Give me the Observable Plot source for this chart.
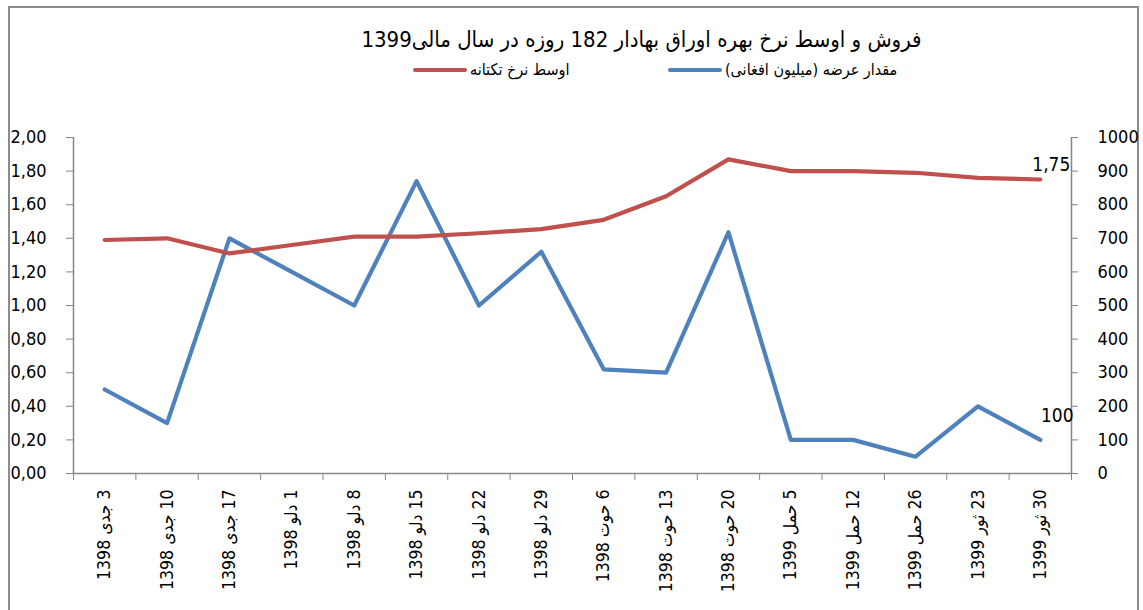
<!DOCTYPE html>
<html>
<head>
<meta charset="utf-8">
<script src="https://cdn.jsdelivr.net/npm/d3@7"></script>
<script src="https://cdn.jsdelivr.net/npm/@observablehq/plot@0.6"></script>
<style>
  html, body { margin: 0; padding: 0; background: #fff; }
  body { width: 1143px; height: 610px; position: relative; overflow: hidden;
         font-family: "Liberation Sans Narrow", "DejaVu Sans Condensed", "DejaVu Sans", sans-serif; }
  #border { position: absolute; left: 8px; top: 6px; width: 1131px; height: 620px;
            border: 2px solid #8c8c8c; box-sizing: border-box; }
  #title { position: absolute; left: 0; width: 1143px; top: 27px; text-align: center;
           font-size: 22px; color: #000; direction: rtl; padding-left: 140px; box-sizing: border-box; white-space: nowrap; }
  #legend { position: absolute; top: 60px; left: 0; width: 1143px; font-size: 16px; color: #000; }
  .item { position: absolute; display: flex; align-items: center; direction: rtl; white-space: nowrap; }
  .sw { display: inline-block; width: 54px; height: 4px; border-radius: 2px; margin-right: 3px; }
  #chart { position: absolute; left: 0; top: 0; }
  #chart svg text { font-family: "Liberation Sans Narrow", "DejaVu Sans Condensed", "DejaVu Sans", sans-serif; }
</style>
</head>
<body>
<div id="border"></div>
<div id="chart"></div>
<div id="title"></div>
<div id="legend"></div>
<script>
// ---- data ----
const days   = ["3", "10", "17", "1", "8", "15", "22", "29", "6", "13", "20", "5", "12", "26", "23", "30"];
const months = ["جدی", "جدی", "جدی", "دلو", "دلو", "دلو", "دلو", "دلو", "حوت", "حوت", "حوت", "حمل", "حمل", "حمل", "ثور", "ثور"];
const years  = ["1398", "1398", "1398", "1398", "1398", "1398", "1398", "1398", "1398", "1398", "1398", "1399", "1399", "1399", "1399", "1399"];
const supply = [250, 150, 700, 600, 500, 870, 500, 660, 310, 300, 718, 100, 100, 50, 200, 100];   // مقدار عرضه (میلیون افغانی) - right axis
const rate   = [1.39, 1.40, 1.31, 1.36, 1.41, 1.41, 1.43, 1.455, 1.51, 1.65, 1.87, 1.80, 1.80, 1.79, 1.76, 1.75]; // اوسط نرخ تکتانه - left axis
const leftTicks  = [0, 0.2, 0.4, 0.6, 0.8, 1.0, 1.2, 1.4, 1.6, 1.8, 2.0];
const rightTicks = [0, 100, 200, 300, 400, 500, 600, 700, 800, 900, 1000];
const titleText = "فروش و اوسط نرخ بهره اوراق بهادار 182 روزه در سال مالی1399";
const seriesNames = ["اوسط نرخ تکتانه", "مقدار عرضه (میلیون افغانی)"];
const seriesColors = ["#C0504D", "#4F81BD"];

// ---- build ----
const leftMax = 2, rightMax = 1000;
const toLeft = v => v * leftMax / rightMax;
const labels = days.map((d, i) => "\u202B" + d + " " + months[i] + " " + years[i] + "\u202C");
const idx = d3.range(days.length);
const rows = idx.map(i => ({i, rate: rate[i], supply: supply[i]}));
const bounds = d3.range(-0.5, days.length, 1);
const last = rows[rows.length - 1];
const fmtComma = d => d.toFixed(2).replace(".", ",");

const plot = Plot.plot({
  width: 1143,
  height: 610,
  marginLeft: 73,
  marginRight: 72,
  marginTop: 137,
  marginBottom: 137,
  x: {type: "linear", domain: [-0.5, days.length - 0.5]},
  y: {domain: [0, leftMax]},
  style: {fontSize: "17px", color: "#000", background: "transparent", overflow: "visible"},
  marks: [
    // axis lines
    Plot.ruleY([0], {stroke: "#868686", strokeWidth: 1.5}),
    Plot.ruleX([-0.5, days.length - 0.5], {stroke: "#868686", strokeWidth: 1.5}),
    // left axis
    Plot.axisY({anchor: "left", ticks: leftTicks, tickFormat: fmtComma, tickSize: 7, tickPadding: 20,
                stroke: "#868686", label: null, fontSize: 18}),
    // right axis
    Plot.axisY({anchor: "right", ticks: rightTicks.map(toLeft), tickFormat: d => String(Math.round(d * rightMax / leftMax)),
                tickSize: 6, tickPadding: 20, stroke: "#868686", label: null, fontSize: 18}),
    // x boundary ticks
    Plot.axisX({ticks: bounds, tickFormat: () => "", tickSize: 7, stroke: "#868686", label: null}),
    // x category labels
    Plot.axisX({ticks: idx, tickFormat: i => labels[i], tickSize: 0, tickPadding: 16, tickRotate: -90,
                label: null, fontSize: 17.5}),
    // series
    Plot.line(rows, {x: "i", y: d => toLeft(d.supply), stroke: seriesColors[1], strokeWidth: 4.2,
                     strokeLinejoin: "round", strokeLinecap: "round"}),
    Plot.line(rows, {x: "i", y: "rate", stroke: seriesColors[0], strokeWidth: 4.2,
                     strokeLinejoin: "round", strokeLinecap: "round"}),
    // data labels on last points
    Plot.text([last], {x: "i", y: "rate", text: d => fmtComma(d.rate), dx: 11, dy: -15, fontSize: 19, fill: "#000"}),
    Plot.text([last], {x: "i", y: d => toLeft(d.supply), text: d => String(d.supply), dx: 17, dy: -24, fontSize: 19, fill: "#000"})
  ]
});
document.getElementById("chart").appendChild(plot);

// ---- title & legend ----
document.getElementById("title").textContent = titleText;
const legend = document.getElementById("legend");
const legendPos = [{left: 413}, {left: 668}];
[0, 1].forEach(k => {
  const it = document.createElement("div");
  it.className = "item";
  it.style.left = legendPos[k].left + "px";
  const t = document.createElement("span");
  t.textContent = seriesNames[k];
  const sw = document.createElement("span");
  sw.className = "sw";
  sw.style.background = seriesColors[k];
  it.appendChild(t);
  it.appendChild(sw);
  legend.appendChild(it);
});
</script>
</body>
</html>
